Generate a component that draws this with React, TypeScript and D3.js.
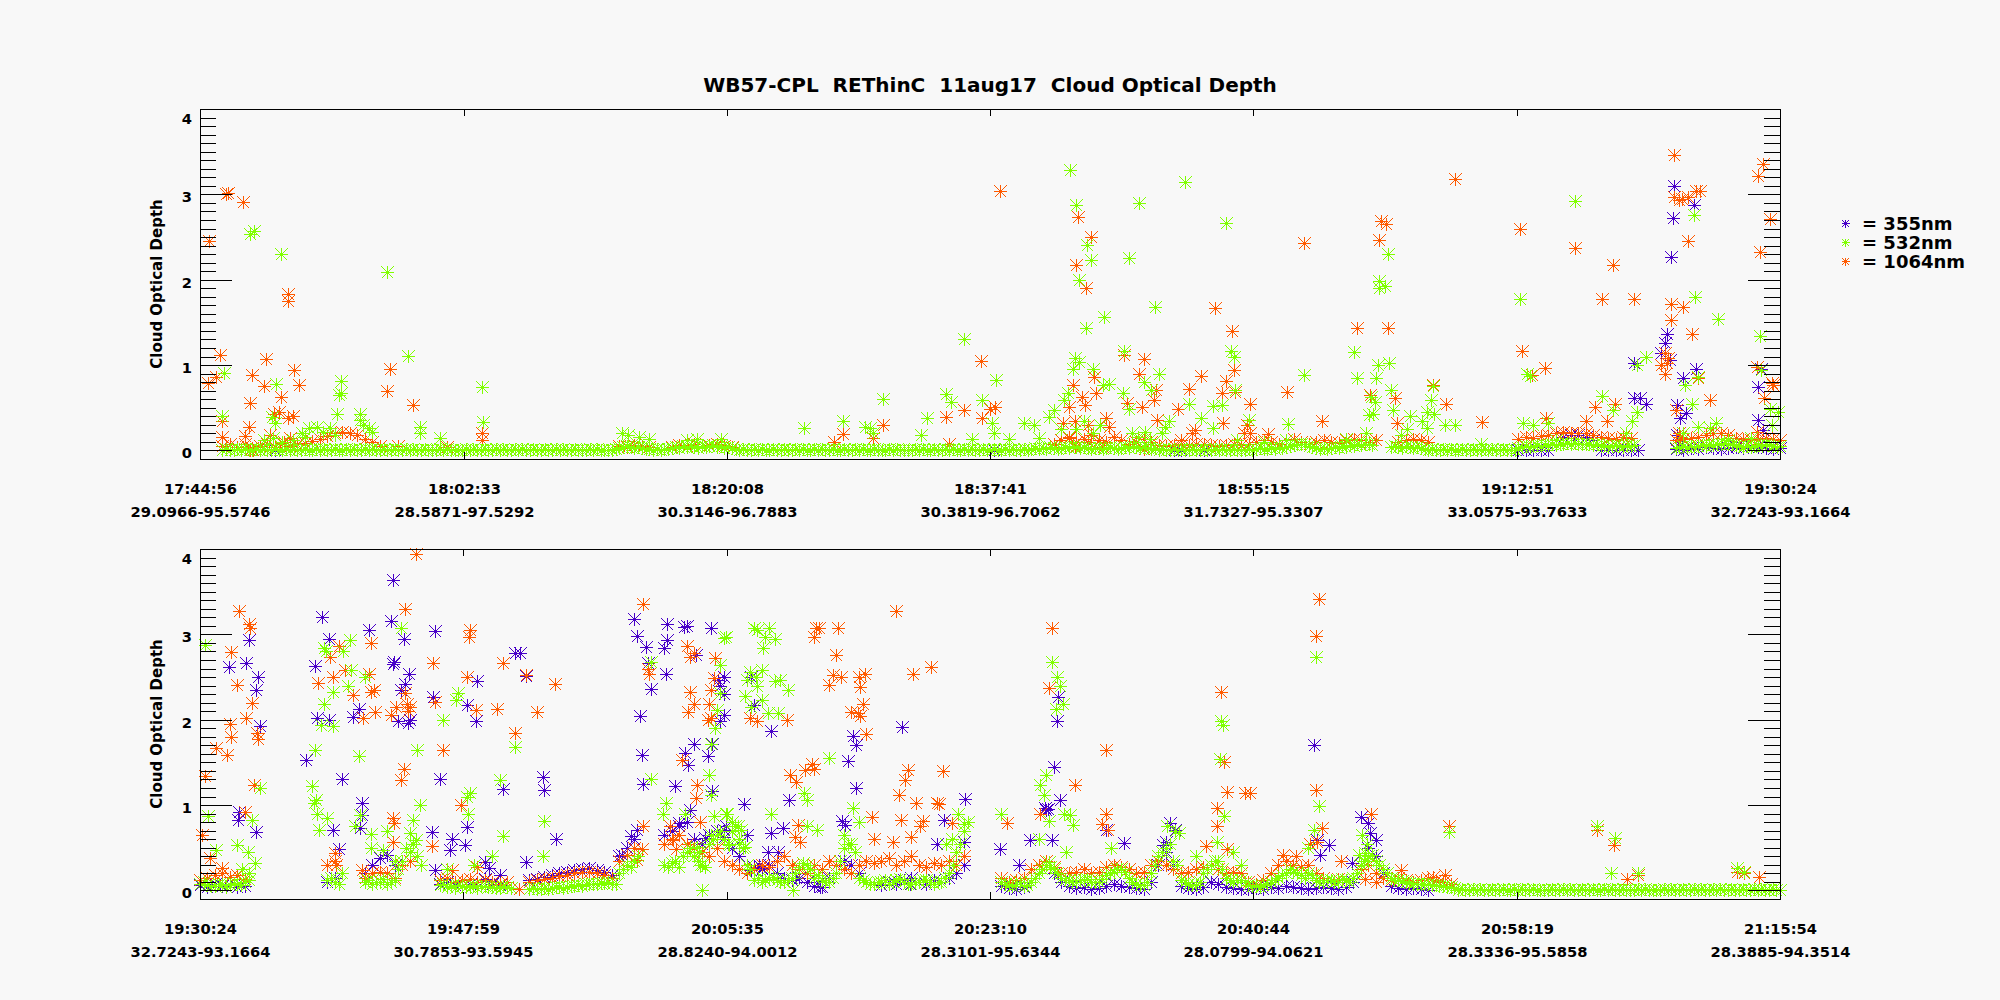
import React from 'react';
import * as d3 from 'd3';

const _ = null;

// sampling steps (minutes from panel start) of the dense low bands
const STEP = 0.5;
const FINE = 0.25;

// ---------------- top panel (17:44:56 - 19:30:24) ----------------
const topTimes = ['17:44:56', '18:02:33', '18:20:08', '18:37:41', '18:55:15', '19:12:51', '19:30:24'];
const topLatLon = ['29.0966-95.5746', '28.5871-97.5292', '30.3146-96.7883', '30.3819-96.7062', '31.7327-95.3307', '33.0575-93.7633', '32.7243-93.1664'];

// every STEP minutes
const topBlueBase = [
  _,_,_,_,_,_,_,_,_,.0,.01,.0,_,_,_,_,_,_,_,_,
  _,_,_,_,_,_,_,_,_,_,_,_,_,_,_,_,_,_,_,_,
  _,_,_,_,_,_,_,_,_,_,_,_,_,_,_,_,_,_,_,_,
  _,_,_,_,_,_,_,_,_,_,_,_,_,_,_,_,_,_,_,_,
  _,_,_,_,_,_,_,_,_,_,_,_,_,_,_,_,_,_,_,_,
  _,_,_,_,.0,.0,.0,_,_,_,_,_,_,_,_,_,_,_,_,_,
  _,_,_,_,_,_,_,_,_,_,.0,.0,.0,.0,.0,_,_,_,_,_,
  _,_,_,_,_,_,_,_,_,_,_,_,_,_,_,_,_,_,_,_,
  _,_,_,_,_,_,_,_,_,_,_,_,_,_,_,.0,.0,.0,.0,.0,
  .0,.12,.16,.18,.18,.16,.12,.0,.0,.0,.0,.0,.0,_,_,_,_,.02,.01,.03,
  .02,.04,.03,.02,.03,.04,.03,.05,.04,.03,.02,.03,
];
// every FINE minutes
const topGreenBase = [
  _,_,_,_,_,_,.01,.02,.01,.0,.02,.01,.02,.01,.0,.02,.01,.02,.01,.01,.02,.0,.01,.02,.01,.02,.01,.0,.02,.01,.01,.02,.01,.02,.0,.01,.02,.01,.01,.02,
  .01,.02,.01,.0,.02,.01,.02,.01,.0,.02,.01,.01,.02,.01,.0,.02,.01,.02,.01,.01,.02,.01,.0,.01,.02,.01,.02,.01,.01,.0,.01,.02,.01,.02,.01,.0,.02,.01,.01,.02,
  .01,.02,.01,.0,.02,.01,.02,.01,.0,.02,.01,.01,.02,.01,.0,.02,.01,.02,.01,.01,.02,.01,.0,.01,.02,.01,.02,.01,.01,.0,.01,.02,.03,.04,.05,.04,.03,.04,.03,.02,
  .02,.01,.02,.01,.02,.02,.03,.04,.03,.05,.04,.05,.04,.03,.05,.04,.05,.06,.04,.05,.03,.04,.03,.02,.01,.02,.01,.0,.02,.01,.02,.01,.0,.02,.01,.01,.02,.01,.0,.02,
  .01,.02,.01,.0,.02,.01,.02,.01,.0,.02,.01,.01,.02,.01,.0,.02,.01,.02,.01,.01,.02,.01,.0,.01,.02,.01,.02,.01,.01,.0,.01,.02,.01,.02,.01,.0,.02,.01,.01,.02,
  .01,.02,.01,.0,.02,.01,.02,.01,.0,.02,.01,.01,.02,.01,.0,.02,.01,.02,.01,.01,.02,.01,.02,.03,.02,.03,.02,.04,.03,.02,.03,.04,.03,.05,.04,.03,.04,.03,.02,.03,
  .03,.02,.03,.04,.03,.02,.03,.04,.03,.05,.04,.03,.04,.03,.02,.03,.01,.02,.01,.0,.02,.01,.02,.01,.0,.02,.01,.01,.02,.01,.0,.02,.01,.02,.01,.01,.02,.01,.0,.01,
  .02,.01,.02,.03,.02,.02,.03,.02,.04,.03,.04,.05,.06,.07,.08,.07,.05,.04,.03,.02,.03,.02,.03,.04,.03,.05,.04,.06,.05,.07,.06,.08,.07,.06,_,_,_,_,.04,.05,
  .04,.03,.05,.04,.03,.04,.03,.02,.01,.02,.01,.0,.02,.01,.02,.01,.0,.02,.01,.01,.02,.01,.0,.02,.01,.02,.01,.01,.02,.01,.0,.01,.03,.04,.05,.04,.05,.06,.05,.06,
  .06,.07,.06,.08,.07,.09,.08,.09,.08,.07,.08,.07,.06,.07,.05,.06,.04,.05,.06,.05,.04,.06,.05,.06,_,_,_,_,_,_,_,_,_,_,.03,.04,.05,.04,.05,.04,
  .05,.06,.05,.07,.06,.08,.07,.09,.08,.07,.06,.05,.04,.05,.04,.05,.06,.05,.07,.06,.05,.04,.05,
];
// every STEP minutes
const topOrangeBase = [
  _,_,_,.05,.07,.04,.08,.03,.05,.07,.04,.09,.05,.07,.09,.11,.14,.17,.2,.22,
  .21,.18,.14,.1,.05,_,_,_,_,_,_,_,_,_,_,_,_,_,_,_,
  _,_,_,_,_,_,_,_,_,_,_,_,_,_,_,_,.05,.04,.06,.05,
  .04,_,_,.04,.06,.05,.07,.05,.06,.07,.05,.04,_,_,_,_,_,_,_,_,
  _,_,_,_,_,_,_,_,_,_,_,_,_,_,_,_,_,_,_,_,
  _,_,_,_,_,_,_,_,_,_,_,_,_,_,.08,.12,.15,.1,.14,.18,
  .12,.1,.16,.12,.08,.1,.14,.1,.06,.05,.06,.07,.06,.08,.07,.06,.05,.06,.07,.06,
  .08,.1,.12,.1,.08,.12,.14,.1,.08,.1,.12,.1,.09,.12,.14,.12,.1,.12,_,_,
  .1,.12,.14,.12,.1,_,_,_,_,_,_,_,_,_,_,_,.14,.16,.15,.17,
  .18,.2,.22,.2,.21,.2,.18,.16,.15,.14,.16,.15,_,_,_,_,_,.12,.14,.15,
  .16,.18,.2,.2,.18,.15,.14,.12,.14,.15,.13,.12,
];

// scattered points above the band: [minutes from start, optical depth]
const topBlueScatter = [
  [95.7,0.61],[96.1,0.61],[96.5,0.55],[95.7,1.02],[98.4,3.1],[98.3,2.72],[98.2,2.27],[99.7,2.88],
  [97.95,1.37],[97.8,1.26],[97.55,1.14],[98.1,1.06],[99.85,0.95],[99.0,0.85],[98.6,0.53],[98.8,0.38],
  [99.2,0.44],[98.6,0.18],[98.9,0.04],[104.0,0.74],[104.2,0.96],[104.0,0.36],[104.3,0.24],
];
const topGreenScatter = [
  [3.34,2.54],[3.6,2.57],[5.4,2.30],[12.5,2.09],[13.9,1.11],[18.8,0.74],[9.4,0.81],[9.3,0.65],[9.4,0.67],
  [9.15,0.43],[1.62,0.91],[5.1,0.78],[1.5,0.40],[4.8,0.39],[5.0,0.32],[10.7,0.43],[10.65,0.36],[10.9,0.30],
  [11.25,0.26],[11.5,0.22],[18.9,0.33],[14.7,0.28],[14.7,0.20],[16.0,0.15],[6.8,0.2],[7.3,0.26],[7.8,0.28],
  [8.2,0.22],[8.7,0.26],[9.0,0.18],[7.0,0.16],[4.3,0.12],[4.9,0.15],[5.5,0.1],[6.2,0.12],[28.2,0.2],
  [28.6,0.18],[29.3,0.16],[30.0,0.13],[32.5,0.12],[33.2,0.14],[34.8,0.14],
  [58.07,3.29],[58.46,2.88],[59.2,2.41],[59.5,2.23],[58.65,2.0],[59.15,1.44],[60.37,1.56],[62.04,2.25],
  [62.7,2.90],[65.76,3.14],[68.5,2.66],[63.74,1.68],[51.0,1.31],[53.14,0.83],[45.6,0.60],[49.8,0.66],
  [50.1,0.57],[52.2,0.59],[48.5,0.38],[48.1,0.18],[42.9,0.35],[44.4,0.27],[44.75,0.26],[44.9,0.2],
  [40.3,0.26],[61.7,1.16],[58.4,1.08],[58.65,1.04],[58.25,0.95],[59.6,0.96],[60.25,0.77],[60.7,0.78],
  [61.6,0.67],[62.0,0.48],[63.0,0.80],[64.0,0.89],[63.5,0.71],[57.95,0.67],[57.7,0.59],[57.0,0.47],
  [56.7,0.39],[55.7,0.30],[55.0,0.32],[52.9,0.32],[51.5,0.14],[68.8,1.16],[69.0,1.10],[69.1,0.71],
  [67.6,0.52],[68.2,0.53],[66.0,0.55],[66.8,0.38],[67.6,0.26],[70.0,0.36],[69.2,0.12],[62.2,0.2],
  [62.6,0.16],[63.1,0.22],[63.4,0.14],[58.5,0.25],[59.0,0.35],[59.6,0.2],[60.1,0.3],[57.5,0.25],
  [64.4,0.28],[64.7,0.35],[64.2,0.2],[56.0,0.15],[54.0,0.14],[53.0,0.2],
  [91.8,2.92],[88.1,1.77],[79.3,2.30],[78.7,1.98],[79.1,1.93],[78.7,1.90],[77.0,1.15],[73.7,0.88],
  [77.2,0.85],[78.5,0.85],[78.6,1.0],[79.4,1.03],[78.15,0.63],[78.4,0.57],[78.0,0.41],[78.3,0.43],
  [79.5,0.71],[79.65,0.47],[82.3,0.76],[82.2,0.59],[81.9,0.45],[82.4,0.43],[80.8,0.4],[81.6,0.35],
  [81.9,0.26],[83.8,0.30],[83.1,0.30],[72.6,0.31],[88.8,0.87],[88.6,0.9],[99.8,1.80],[101.3,1.54],
  [99.7,2.76],[96.5,1.09],[95.9,1.0],[99.1,0.77],[100.0,0.86],[93.6,0.64],[94.3,0.47],[95.6,0.34],
  [95.9,0.45],[99.6,0.55],[101.2,0.32],[100.0,0.28],[100.8,0.26],[104.1,1.34],[104.2,0.94],[104.8,0.49],
  [88.3,0.32],[89.0,0.30],[90.0,0.32],[71.0,0.1],[72.5,0.12],[76.5,0.14],[77.8,0.2],[80.2,0.18],
  [80.6,0.25],[85.5,0.08],[90.5,0.12],[95.2,0.2],[99.0,0.2],[102.0,0.12],[103.5,0.15],[104.9,0.3],[105.3,0.45],
];
const topOrangeScatter = [
  [0.59,2.45],[1.75,3.0],[1.85,3.02],[2.88,2.91],[5.9,1.83],[5.85,1.75],[1.34,1.12],[1.09,0.86],[0.54,0.79],
  [4.4,1.07],[3.5,0.88],[4.26,0.75],[6.28,0.94],[6.62,0.77],[5.4,0.63],[3.34,0.56],[12.68,0.95],[12.48,0.70],
  [14.2,0.53],[1.5,0.34],[1.5,0.16],[3.27,0.27],[3.0,0.17],[4.95,0.43],[5.3,0.45],[5.9,0.38],[6.2,0.40],
  [4.7,0.18],[3.57,0.01],[3.35,0.0],[18.8,0.2],[18.8,0.12],[5.6,0.1],[6.0,0.15],[13.2,0.05],[16.5,0.04],
  [53.37,3.04],[58.6,2.74],[59.5,2.50],[58.5,2.17],[59.15,1.90],[65.76,3.14],[67.76,1.67],[68.86,1.40],
  [52.1,1.05],[51.0,0.47],[49.8,0.39],[52.2,0.38],[52.7,0.49],[53.1,0.51],[45.6,0.30],[42.9,0.19],
  [44.9,0.15],[42.3,0.10],[50.0,0.08],[63.0,1.07],[62.66,0.90],[61.7,1.12],[59.7,0.86],[59.8,0.67],
  [58.3,0.77],[58.9,0.63],[59.1,0.53],[60.5,0.38],[60.7,0.27],[59.3,0.30],[58.4,0.34],[57.6,0.32],
  [58.0,0.51],[58.0,0.16],[59.3,0.10],[60.25,0.04],[62.5,0.04],[63.0,0.02],[58.4,0.04],[61.9,0.56],
  [62.9,0.51],[63.8,0.71],[63.65,0.59],[63.9,0.36],[65.3,0.49],[66.0,0.72],[66.8,0.87],[68.5,0.81],
  [68.2,0.67],[69.0,0.94],[69.1,0.69],[70.1,0.54],[68.3,0.32],[66.2,0.2],[66.4,0.24],[65.5,0.12],
  [69.9,0.30],[70.1,0.2],[69.7,0.2],
  [73.67,2.43],[78.8,2.69],[79.2,2.65],[78.7,2.47],[83.8,3.18],[77.2,1.43],[79.3,1.43],[72.57,0.68],
  [78.1,0.65],[79.76,0.61],[82.3,0.77],[83.2,0.55],[74.9,0.34],[71.3,0.19],[85.6,0.33],[79.9,0.32],
  [88.1,2.59],[91.8,2.37],[94.3,2.17],[93.6,1.78],[95.7,1.78],[88.25,1.17],[89.8,0.97],[88.9,0.88],
  [93.1,0.51],[94.45,0.55],[93.9,0.34],[92.5,0.34],[89.86,0.38],[98.4,3.46],[98.4,2.97],[98.7,2.93],
  [98.9,2.95],[99.3,2.97],[99.85,3.04],[100.1,3.04],[99.3,2.45],[98.2,1.71],[99.0,1.68],[98.2,1.53],
  [99.6,1.36],[97.8,1.14],[97.9,1.02],[98.0,1.08],[97.55,1.0],[97.8,0.9],[100.0,0.85],[100.8,0.59],
  [98.5,0.47],[98.7,0.2],[98.8,0.16],[104.3,3.36],[104.0,3.22],[104.8,2.71],[104.1,2.32],[103.9,0.98],
  [105.0,0.77],[104.4,0.61],[103.9,0.22],[104.9,0.79],
];

// ---------------- bottom panel (19:30:24 - 21:15:54) ----------------
const botTimes = ['19:30:24', '19:47:59', '20:05:35', '20:23:10', '20:40:44', '20:58:19', '21:15:54'];
const botLatLon = ['32.7243-93.1664', '30.7853-93.5945', '28.8240-94.0012', '28.3101-95.6344', '28.0799-94.0621', '28.3336-95.5858', '28.3885-94.3514'];

// every STEP minutes
const botBlueBase = [
  .06,.04,.08,.05,.06,.04,.05,_,_,_,_,_,_,_,_,_,_,.1,.15,_,
  _,_,.2,.3,.38,.42,.3,_,_,_,_,_,.08,.1,.06,.12,.08,.1,.14,.08,
  .06,.1,_,_,.12,.14,.16,.18,.2,.22,.24,.25,.26,.24,.22,.18,.4,.5,.6,_,
  _,_,.65,.7,.75,.8,.6,.55,.65,.7,.6,.5,.4,.3,.28,.25,.3,.2,.15,.12,
  .15,.1,.05,.04,.15,.3,.35,.3,.2,.1,.08,.06,.1,.08,.12,.15,.1,.08,.12,.1,
  .15,.2,.3,_,_,_,_,.05,.03,.02,.04,.1,.3,.35,.2,.1,.05,.03,.04,.02,
  .03,.05,.08,.05,.04,.03,.02,.1,.3,.45,.3,.05,.03,.02,.04,.1,.08,.04,.03,.02,
  .02,.03,.02,.04,.03,.05,.04,.03,.02,.03,.04,.03,.02,.04,.1,.3,.5,.4,.2,.05,
  .03,.02,.03,.02,.01,_,_,_,_,_,_,_,_,_,_,_,_,_,_,_,
  _,_,_,_,_,_,_,_,_,_,_,_,_,_,_,_,_,_,_,_,
  _,_,_,_,_,_,_,_,_,_,_,_,
];
// every FINE minutes
const botGreenBase = [
  .08,.1,.06,.05,.05,.08,.07,.04,.06,.09,.08,.06,.1,.12,_,_,_,_,_,_,_,_,_,_,_,_,_,_,_,_,_,_,_,_,.12,.15,.1,.08,_,_,
  _,_,_,_,.1,.12,.08,.1,.1,.14,.08,.1,.12,.25,.35,.5,.45,.55,.4,.3,_,_,_,_,.06,.08,.04,.05,.03,.06,.05,.04,.04,.06,.03,.05,.05,.04,.04,.03,
  .03,.05,.04,.03,_,_,_,_,.02,.03,.02,.02,.03,.02,.03,.04,.04,.03,.04,.05,.05,.06,.05,.07,.07,.08,.08,.09,.09,.1,.08,.07,.2,.25,.3,.28,.35,.4,_,_,
  _,_,_,_,.3,.28,.32,.35,.28,.4,.45,.5,.4,.35,.3,.28,.55,.6,.65,.7,.6,.55,.7,.75,.55,.5,.3,.25,.12,.15,.1,.12,.14,.16,.12,.1,.1,.12,.15,.2,
  .28,.32,.3,.25,.15,.18,.12,.1,.1,.15,.2,.35,.5,.55,.55,.45,.15,.12,.1,.08,.08,.1,.1,.12,.08,.1,.12,.14,.1,.08,.08,.1,.1,.12,.12,.1,.08,.1,.1,.15,
  .2,.3,.45,.55,.7,.8,_,_,_,_,_,_,_,_,.1,.08,.06,.05,.08,.1,.05,.06,.1,.15,.2,.25,.3,.28,.25,.2,.15,.12,.12,.1,.1,.12,.12,.14,.1,.1,
  .1,.14,.18,.2,.22,.25,.25,.22,.15,.1,.08,.06,.06,.1,.2,.3,.4,.45,.5,.55,.35,.3,.12,.1,.08,.06,.06,.1,.2,.25,.3,.35,.35,.25,.15,.12,.1,.12,.12,.1,
  .06,.05,.05,.04,.06,.08,.1,.12,.15,.18,.2,.25,.22,.2,.18,.15,.2,.18,.12,.1,.1,.12,.12,.1,.1,.14,.12,.1,.15,.2,.3,.35,.4,.42,.35,.3,.25,.2,.15,.12,
  .12,.11,.1,.09,.08,.08,.08,.07,.07,.06,.06,.05,.05,.04,.04,.03,.01,.02,.01,.0,.02,.01,.02,.01,.0,.02,.01,.01,.02,.01,.0,.02,.01,.02,.01,.01,.02,.01,.0,.01,
  .01,.02,.01,.0,.02,.01,.02,.01,.0,.02,.01,.01,.02,.01,.0,.02,.01,.02,.01,.01,.02,.01,.0,.01,.02,.01,.02,.01,.01,.0,.01,.02,.01,.02,.01,.0,.02,.01,.01,.02,
  .01,.02,.01,.0,.02,.01,.02,.01,.0,.02,.01,.01,.02,.01,.0,.02,.01,.02,.01,.01,.02,.01,.0,
];
// every STEP minutes
const botOrangeBase = [
  .12,.15,.18,.2,.16,.18,.14,_,_,_,_,_,_,_,_,_,_,.3,.35,_,
  _,_,.15,.2,.22,.2,.15,.3,.35,_,_,_,.12,.15,.1,.12,.14,.1,.12,.1,
  .08,.1,_,_,.1,.12,.14,.15,.17,.18,.2,.22,.22,.2,.18,.15,.35,.42,.5,_,
  _,_,.55,.6,.65,.55,.5,.45,.4,.5,.35,.3,.25,.2,.25,.3,.28,.35,.4,.3,
  .25,.2,.3,.25,.35,.3,.25,.2,.3,.35,.32,.35,.38,.3,.35,.4,.3,.28,.32,.3,
  .35,.3,.4,_,_,_,_,.15,.1,.12,.15,.25,.3,.35,.28,.2,.2,.22,.25,.2,
  .22,.28,.3,.28,.25,.2,.22,.3,.35,.3,.25,.2,.22,.25,.28,.3,.25,.2,.22,.2,
  .1,.08,.12,.2,.3,.35,.3,.28,.3,.2,.15,.12,.14,.12,.15,.25,.3,.2,.15,.12,
  .15,.12,.1,.12,.15,.12,.1,.08,_,_,_,_,_,_,_,_,_,_,_,_,
  _,_,_,_,_,_,_,_,_,_,_,_,_,_,_,_,_,_,_,_,
  _,_,_,_,_,_,_,_,_,_,_,_,
];

const botBlueScatter = [
  [12.87,3.64],[8.16,3.2],[3.3,2.93],[1.96,2.62],[3.06,2.67],[3.9,2.50],[3.75,2.35],[4.0,1.93],[8.62,2.95],
  [11.26,3.05],[12.75,3.16],[13.6,2.95],[15.7,3.04],[7.7,2.63],[12.98,2.68],[12.9,2.65],[13.95,2.54],
  [13.7,2.42],[13.44,2.35],[11.4,2.9],[10.6,2.13],[10.2,2.03],[7.8,2.02],[8.6,2.0],[13.9,1.96],[14.0,2.0],
  [13.2,1.98],[15.55,2.27],[17.8,2.17],[18.5,2.45],[18.4,1.98],[21.0,2.78],[21.35,2.78],[21.75,2.51],
  [7.06,1.53],[9.5,1.31],[16.0,1.31],[22.9,1.33],[23.0,1.18],[20.2,1.19],[10.8,1.03],[10.8,0.88],[2.6,0.92],
  [2.55,0.83],[3.75,0.69],[8.85,0.71],[10.7,0.73],[17.8,0.74],[15.5,0.68],[16.8,0.60],[17.7,0.53],
  [23.8,0.60],[16.7,0.47],[9.3,0.49],[15.7,0.24],[19.0,0.33],[19.3,0.26],[20.0,0.18],[21.8,0.33],
  [28.2,0.42],[28.8,0.64],[29.2,0.71],[29.0,3.18],[29.2,2.98],[29.8,2.85],[29.9,2.67],[30.1,2.36],
  [31.0,2.84],[31.2,2.93],[31.2,3.12],[31.1,2.53],[32.3,3.09],[32.5,3.1],[33.1,2.76],[34.1,3.07],
  [29.4,2.04],[29.5,1.59],[29.6,1.25],[31.7,1.22],[32.4,1.61],[32.6,1.47],[33.0,1.71],[33.9,1.57],
  [34.2,1.72],[34.2,1.17],[34.6,2.47],[34.7,2.39],[34.75,1.98],[32.0,0.79],[32.7,0.94],[35.1,0.75],
  [35.0,0.63],[33.7,0.61],
  [35.0,2.5],[35.0,2.3],[35.0,2.06],[36.8,2.5],[37.0,2.17],[38.1,1.87],[46.9,1.91],[43.6,1.81],[43.8,1.70],
  [43.3,1.52],[43.8,1.2],[36.3,1.01],[39.3,1.06],[51.1,1.07],[49.7,0.83],[35.0,0.71],[36.5,0.65],
  [38.1,0.67],[38.9,0.73],[42.9,0.81],[43.1,0.77],[49.2,0.55],[51.0,0.57],[37.9,0.45],[38.6,0.45],
  [37.5,0.26],[36.8,0.24],[37.3,0.3],[39.8,0.15],[41.4,0.04],[47.4,0.08],[57.0,1.45],[57.4,1.06],
  [56.5,0.94],[57.2,1.98],[57.3,2.27],[55.4,0.59],[56.9,0.59],[61.7,0.56],[60.5,0.71],[64.8,0.79],
  [64.5,0.57],[64.3,0.53],[65.1,0.71],[68.6,0.49],[53.4,0.49],[54.7,0.30],[56.4,0.97],[56.6,0.96],
  [74.4,1.70],[77.5,0.86],[78.0,0.79],[78.15,0.67],[78.5,0.59],[74.8,0.42],[75.4,0.53],[74.6,0.59],[76.9,0.32],
];
const botGreenScatter = [
  [0.31,2.87],[13.45,3.07],[8.3,2.84],[8.4,2.8],[10.0,2.93],[9.55,2.8],[10.1,2.58],[11.0,2.5],[8.9,2.33],
  [8.3,2.18],[9.9,2.39],[8.05,1.94],[8.85,1.93],[17.2,2.31],[17.1,2.23],[16.2,2.0],[7.7,1.64],[10.6,1.58],
  [14.5,1.65],[21.0,1.68],[20.0,1.29],[7.5,1.22],[7.75,1.06],[7.6,1.02],[4.0,1.2],[14.7,1.0],[17.8,1.1],
  [18.0,1.14],[17.9,0.9],[0.54,0.87],[3.5,0.83],[7.8,0.9],[8.5,0.85],[10.35,0.75],[10.7,0.88],[14.2,0.83],
  [23.0,0.81],[20.2,0.64],[7.95,0.71],[11.4,0.66],[14.0,0.67],[14.4,0.59],[22.9,0.40],[30.1,2.68],
  [35.0,2.96],[34.75,2.64],[34.7,2.31],[34.5,2.11],[34.4,1.9],[34.1,1.72],[34.0,1.35],[34.1,1.12],
  [30.1,1.30],[31.1,1.02],[30.9,0.9],[32.4,0.9],[34.3,0.87],[35.1,0.9],[34.1,0.65],[35.3,0.53],
  [33.4,0.30],[33.5,0.0],[33.2,0.51],[33.3,0.45],[11.4,0.5],[12.2,0.47],[1.05,0.47],[2.5,0.53],
  [3.2,0.45],[3.7,0.32],[3.3,0.2],[2.8,0.25],[19.5,0.4],[18.3,0.3],[16.5,0.25],[12.5,0.7],[13.0,0.35],[9.5,0.2],
  [35.1,2.97],[37.0,3.07],[37.2,3.05],[38.0,3.07],[37.75,2.97],[38.4,2.95],[37.6,2.84],[36.7,2.56],
  [37.5,2.58],[37.2,2.39],[36.5,2.47],[38.4,2.45],[38.7,2.47],[39.25,2.35],[36.4,2.28],[37.5,2.23],
  [36.8,2.15],[37.9,2.08],[38.6,2.08],[37.1,2.5],[42.0,1.55],[40.3,1.14],[40.5,1.06],[38.1,0.9],
  [35.2,0.9],[35.9,0.75],[36.1,0.71],[43.6,0.97],[39.6,0.0],[50.6,0.9],[51.0,0.78],[53.5,0.9],
  [56.9,2.68],[57.2,2.5],[57.4,2.39],[57.6,2.19],[57.15,2.13],[56.5,1.35],[56.1,1.24],[56.35,1.12],
  [56.7,0.81],[57.7,0.9],[58.1,0.88],[58.3,0.77],[56.7,0.33],[68.2,1.98],[68.3,1.94],[68.1,1.54],
  [68.4,0.87],[65.4,0.67],[67.9,0.57],[36.4,0.51],[41.2,0.71],[40.5,0.75],[35.5,0.8],[36.0,0.6],
  [44.0,0.8],[43.0,0.65],[50.2,0.6],[49.8,0.55],[56.0,0.6],[57.8,0.45],[60.8,0.5],[64.6,0.75],
  [65.1,0.7],[66.5,0.4],[69.0,0.45],[69.5,0.3],
  [74.5,2.73],[74.7,0.99],[74.4,0.71],[77.4,0.42],[77.8,0.44],[78.0,0.34],[83.4,0.69],[93.3,0.75],
  [94.5,0.62],[94.2,0.2],[96.0,0.21],[102.6,0.26],[103.1,0.22],[74.0,0.5],[77.6,0.65],[77.9,0.55],
];
const botOrangeScatter = [
  [14.4,3.94],[2.6,3.27],[3.3,3.12],[3.35,3.08],[13.7,3.3],[2.08,2.79],[2.5,2.41],[3.5,2.2],[3.1,2.02],
  [2.0,1.95],[2.05,1.8],[1.1,1.67],[1.8,1.59],[3.8,1.84],[3.9,1.78],[0.36,1.34],[3.6,1.24],[3.0,0.92],
  [0.13,0.65],[0.7,0.38],[1.5,0.26],[9.3,2.86],[8.7,2.73],[8.85,2.5],[7.9,2.43],[10.2,2.29],[9.65,2.58],
  [11.4,2.9],[11.26,2.54],[11.4,2.33],[11.6,2.35],[10.9,2.02],[11.7,2.09],[12.75,2.05],[13.1,2.15],
  [13.8,2.18],[14.0,2.15],[13.9,2.1],[13.7,2.31],[18.0,3.05],[17.95,2.97],[15.55,2.67],[17.8,2.5],
  [15.7,2.21],[18.4,2.11],[19.8,2.13],[20.2,2.66],[21.75,2.52],[23.7,2.42],[22.5,2.09],[21.0,1.85],
  [16.2,1.65],[13.6,1.42],[13.45,1.29],[17.4,1.0],[12.9,0.85],[12.95,0.79],[9.0,0.44],[9.1,0.30],
  [12.9,0.57],[15.5,0.52],[10.8,0.24],[16.8,0.24],[18.5,0.28],[21.3,0.02],[29.6,3.36],[29.9,2.6],
  [30.0,2.54],[32.5,2.86],[32.7,2.74],[33.0,2.78],[34.4,2.72],[34.3,2.49],[34.1,2.35],[32.7,2.33],
  [33.0,2.19],[32.6,2.09],[34.0,2.19],[34.1,2.02],[33.9,2.0],[32.2,1.53],[33.2,1.23],[33.15,1.08],
  [33.4,0.8],[29.6,0.75],[29.5,0.49],[29.2,0.36],[31.4,0.75],[31.6,0.59],[31.8,0.49],
  [46.5,3.27],[41.1,3.07],[41.3,3.07],[41.0,2.97],[42.6,3.07],[42.5,2.76],[42.3,2.52],[42.8,2.5],
  [42.0,2.41],[44.0,2.5],[44.4,2.54],[44.1,2.38],[47.6,2.54],[48.8,2.62],[44.3,2.18],[43.5,2.09],
  [44.1,2.04],[43.95,2.08],[44.5,1.83],[36.7,2.02],[37.2,1.99],[39.2,2.0],[39.4,1.35],[39.8,1.27],
  [40.4,1.41],[40.85,1.48],[41.0,1.42],[47.3,1.41],[47.1,1.29],[49.6,1.40],[46.7,1.12],[47.8,1.02],
  [49.2,1.02],[49.35,1.01],[44.9,0.86],[46.8,0.83],[48.3,0.81],[50.2,0.79],[39.9,0.77],[39.7,0.63],
  [40.05,0.57],[45.0,0.6],[46.25,0.57],[47.5,0.63],[48.1,0.75],[56.9,3.07],[56.7,2.37],[60.5,1.65],
  [58.4,1.24],[56.5,1.35],[56.1,0.9],[53.9,0.79],[60.5,0.9],[60.2,0.78],[60.6,0.71],[68.2,2.32],
  [68.4,1.51],[68.6,1.15],[69.8,1.14],[67.9,0.97],[67.9,0.76],[67.2,0.52],[68.6,0.49],
  [74.7,3.42],[74.5,2.98],[74.5,1.18],[70.1,1.14],[74.9,0.73],[74.1,0.55],[74.6,0.57],[78.2,0.9],
  [72.3,0.42],[73.2,0.40],[76.2,0.35],[83.4,0.75],[93.3,0.71],[94.4,0.53],[80.2,0.24],[77.8,0.14],
  [78.5,0.1],[82.3,0.16],[83.1,0.18],[94.2,0.2],[95.3,0.14],[96.0,0.18],[102.6,0.22],[103.1,0.2],[104.1,0.16],
];

const wavelengths = ['355nm', '532nm', '1064nm'];
const colors = ['#4800c8', '#80ff00', '#ff5a00'];

const title = 'WB57-CPL  REThinC  11aug17  Cloud Optical Depth';
const yTicks = [0, 1, 2, 3, 4];

const toSec = (t: string) => {
  const [h, m, s] = t.split(':').map(Number);
  return h * 3600 + m * 60 + s;
};

// asterisk marker (+ and x) for every point
const stars = (pts: number[][], x, y, r = 6.5, d = 6) =>
  pts
    .map(([m, v]) => {
      const cx = Math.round(x(m)) + 0.5;
      const cy = Math.round(y(v)) + 0.5;
      return `M${cx - r},${cy}h${2 * r}M${cx},${cy - r}v${2 * r}M${cx - d},${cy - d}l${2 * d},${2 * d}M${cx - d},${cy + d}l${2 * d},${-2 * d}`;
    })
    .join('');

const withTimes = (base: (number | null)[], step: number) =>
  base.map((v, i) => (v == null ? null : [i * step, v])).filter(Boolean) as number[][];

const L = 200, R = 1780;
const font = '"DejaVu Sans", "Liberation Sans", Arial, sans-serif';

function Panel({ top, times, latlon, series }) {
  const bottom = top + 350;
  const t0 = toSec(times[0]);
  const span = (toSec(times[times.length - 1]) - t0) / 60;
  const x = d3.scaleLinear().domain([0, span]).range([L, R]);
  const y = d3.scaleLinear().domain([-0.1, 4]).range([bottom, top]);
  const minor = d3.range(1, 40).map(i => i / 10).filter(v => !yTicks.includes(v));
  const ty = v => Math.round(y(v)) + 0.5;
  const xt = times.map(t => Math.round(x((toSec(t) - t0) / 60)) + 0.5);

  return (
    <g>
      {series.map((s, i) => (
        <path key={i} d={stars(withTimes(s.base, s.step).concat(s.scatter), x, y)} stroke={s.color} strokeWidth={1} fill="none" />
      ))}
      <rect x={L + 0.5} y={top + 0.5} width={R - L} height={bottom - top} fill="none" stroke="#000" strokeWidth={1} />
      {yTicks.map(v => (
        <g key={'M' + v}>
          <path d={`M${L},${ty(v)}h32M${R},${ty(v)}h-32`} stroke="#000" />
          <text x={192} y={v === 4 ? top + 14.5 : y(v) + 8} textAnchor="end" fontSize={14.7}>{v}</text>
        </g>
      ))}
      {minor.map(v => (
        <path key={'m' + v} d={`M${L},${ty(v)}h16M${R},${ty(v)}h-16`} stroke="#000" />
      ))}
      {xt.map((px, i) => (
        <g key={'x' + i}>
          <path d={`M${px},${top}v7M${px},${bottom}v-7`} stroke="#000" />
          <text x={px} y={bottom + 35} textAnchor="middle" fontSize={14.7}>{times[i]}</text>
          <text x={px} y={bottom + 58} textAnchor="middle" fontSize={14.7}>{latlon[i]}</text>
        </g>
      ))}
      <text transform={`translate(161.5,${(top + bottom) / 2}) rotate(-90)`} textAnchor="middle" fontSize={15}>
        Cloud Optical Depth
      </text>
    </g>
  );
}

export default function App() {
  const topSeries = [
    { color: colors[0], base: topBlueBase, step: STEP, scatter: topBlueScatter },
    { color: colors[2], base: topOrangeBase, step: STEP, scatter: topOrangeScatter },
    { color: colors[1], base: topGreenBase, step: FINE, scatter: topGreenScatter },
  ];
  const botSeries = [
    { color: colors[0], base: botBlueBase, step: STEP, scatter: botBlueScatter },
    { color: colors[2], base: botOrangeBase, step: STEP, scatter: botOrangeScatter },
    { color: colors[1], base: botGreenBase, step: FINE, scatter: botGreenScatter },
  ];
  const legendY = d3.scaleLinear().domain([0, 2]).range([223, 261]);

  return (
    <svg
      width={2000}
      height={1000}
      style={{ position: 'absolute', left: 0, top: 0, background: '#f8f8f8' }}
      fontFamily={font}
      fontWeight="bold"
      shapeRendering="crispEdges"
    >
      <rect width={2000} height={1000} fill="#f8f8f8" />
      <text x={(L + R) / 2} y={92} textAnchor="middle" fontSize={20} style={{ whiteSpace: 'pre' }}>{title}</text>
      <Panel top={109} times={topTimes} latlon={topLatLon} series={topSeries} />
      <Panel top={549} times={botTimes} latlon={botLatLon} series={botSeries} />
      {wavelengths.map((w, i) => (
        <g key={w}>
          <path d={stars([[0, 0]], () => 1845, () => legendY(i), 4, 3.5)} stroke={colors[i]} fill="none" />
          <text x={1862} y={legendY(i) + 6.5} fontSize={18}>= {w}</text>
        </g>
      ))}
    </svg>
  );
}
